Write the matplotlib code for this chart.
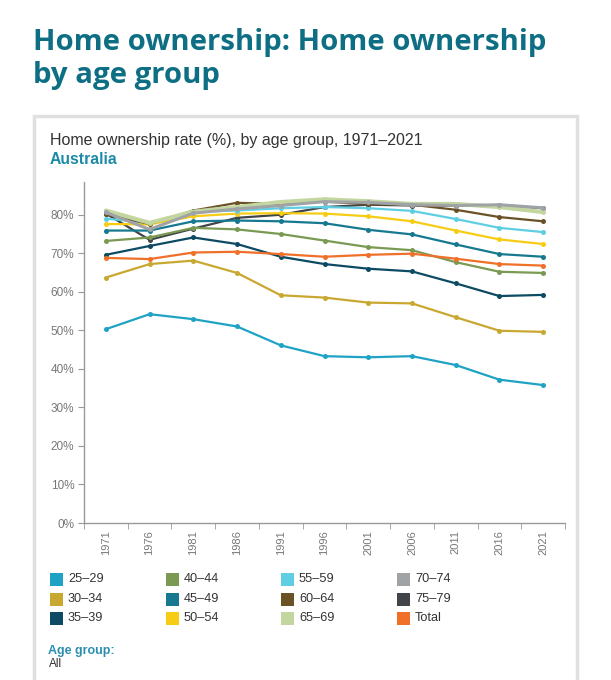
import numpy as np
import matplotlib
matplotlib.use("Agg")
import matplotlib.pyplot as plt
from matplotlib.patches import Rectangle

# data
years = ["1971", "1976", "1981", "1986", "1991", "1996", "2001", "2006", "2011", "2016", "2021"]

age_25_29 = [50.3, 54.2, 52.9, 51.0, 46.1, 43.3, 43.0, 43.3, 41.0, 37.2, 35.8]
age_30_34 = [63.7, 67.2, 68.1, 64.9, 59.1, 58.5, 57.2, 57.0, 53.4, 49.9, 49.6]
age_35_39 = [69.6, 71.9, 74.1, 72.4, 69.1, 67.2, 66.0, 65.3, 62.2, 58.9, 59.2]
age_40_44 = [73.2, 74.1, 76.6, 76.2, 75.0, 73.3, 71.6, 70.8, 67.7, 65.2, 64.9]
age_45_49 = [75.9, 75.9, 78.3, 78.5, 78.3, 77.8, 76.1, 74.9, 72.3, 69.8, 69.1]
age_50_54 = [77.6, 77.5, 79.6, 80.3, 80.4, 80.3, 79.6, 78.3, 75.9, 73.6, 72.4]
age_55_59 = [79.0, 77.9, 80.7, 81.1, 81.7, 82.0, 81.7, 81.0, 78.9, 76.6, 75.5]
age_60_64 = [80.1, 77.6, 81.1, 83.1, 82.8, 83.4, 82.8, 82.6, 81.3, 79.4, 78.3]
age_65_69 = [81.1, 77.9, 80.8, 82.0, 83.3, 84.0, 83.5, 82.8, 82.8, 82.0, 80.7]
age_70_74 = [80.6, 76.2, 80.4, 81.5, 82.4, 83.4, 83.2, 82.6, 82.4, 82.6, 81.8]
age_75_79 = [80.3, 73.5, 76.4, 79.2, 80.0, 82.0, 82.6, 82.4, 82.3, 82.5, 81.7]
total     = [68.8, 68.5, 70.2, 70.4, 69.8, 69.1, 69.6, 69.9, 68.6, 67.2, 66.8]

labels = ["25–29", "30–34", "35–39", "40–44", "45–49", "50–54",
          "55–59", "60–64", "65–69", "70–74", "75–79", "Total"]
series = [age_25_29, age_30_34, age_35_39, age_40_44, age_45_49, age_50_54,
          age_55_59, age_60_64, age_65_69, age_70_74, age_75_79, total]
colors = ["#1fa3c4", "#c9a832", "#0d4a63", "#7a9a53", "#16798f", "#f7cc14",
          "#5ecfe2", "#6a5126", "#c3d6a0", "#a0a3a6", "#414449", "#f0702a"]
widths = [1.6] * 12
widths[8] = 3.0   # 65-69 looks thicker
widths[9] = 2.2
zorders = [3] * 12
zorders[10] = 2   # 75-79 sits under the grey line

W, H = 611, 680
fig = plt.figure(figsize=(W / 100, H / 100), dpi=100)
fig.patch.set_facecolor("white")

def fx(px):
    return px / W

def fy(py):
    return 1 - py / H

# page title
fig.text(fx(33), fy(50), "Home ownership: Home ownership", family="Open Sans",
         weight="bold", fontsize=21.2, color="#0e6f84", va="baseline", ha="left")
fig.text(fx(33), fy(83), "by age group", family="Open Sans",
         weight="bold", fontsize=21.2, color="#0e6f84", va="baseline", ha="left")

# card
card = Rectangle((fx(34), fy(690)), fx(543), fy(116) - fy(690), transform=fig.transFigure,
                 facecolor="white", edgecolor="#e0e0e0", linewidth=2.5, zorder=0)
fig.add_artist(card)

fig.text(fx(50), fy(141), "Home ownership rate (%), by age group, 1971–2021",
         family="Liberation Sans", fontsize=11.5, color="#333333", va="center")
fig.text(fx(50), fy(159), "Australia", family="Liberation Sans", weight="bold",
         fontsize=11.3, color="#1a8aa6", va="center")

# axes
ax = fig.add_axes([fx(84), fy(523), fx(565) - fx(84), fy(182) - fy(523)])
x = np.arange(len(years))
for vals, c, lw, z in zip(series, colors, widths, zorders):
    ax.plot(x, vals, color=c, lw=lw, marker="o", markersize=3.6,
            markeredgewidth=0, solid_capstyle="round", zorder=z)

ax.set_xlim(-0.5, len(years) - 0.5)
ax.set_ylim(0, 88.5)
ax.set_yticks(np.arange(0, 90, 10))
ax.set_yticklabels([f"{v}%" for v in range(0, 90, 10)])
ax.set_xticks(x)
ax.set_xticklabels(years, rotation=90)
ax.set_xticks(np.arange(-0.5, len(years), 1), minor=True)
ax.tick_params(axis="x", which="major", length=0, pad=5, labelsize=8, labelcolor="#777777")
ax.tick_params(axis="x", which="minor", length=4, color="#999999")
ax.tick_params(axis="y", length=4, color="#999999", labelsize=8.5, labelcolor="#777777", pad=3)
for lab in ax.get_xticklabels() + ax.get_yticklabels():
    lab.set_family("Liberation Sans")
for s in ["top", "right"]:
    ax.spines[s].set_visible(False)
for s in ["left", "bottom"]:
    ax.spines[s].set_color("#999999")
    ax.spines[s].set_linewidth(1.0)

# legend, column-major
col_x = [50, 166, 281, 397]
row_y = [579, 599, 618]
for i, (lab, c) in enumerate(zip(labels, colors)):
    cx = col_x[i // 3]
    cy = row_y[i % 3]
    fig.add_artist(Rectangle((fx(cx), fy(cy + 7)), fx(13), fy(cy - 6) - fy(cy + 7),
                             transform=fig.transFigure, facecolor=c, edgecolor="none"))
    fig.text(fx(cx + 18), fy(cy), lab, family="Liberation Sans", fontsize=9.2,
             color="#333333", va="center")

fig.text(fx(48), fy(651), "Age group:", family="Liberation Sans", weight="bold",
         fontsize=9, color="#2a8fae", va="center")
fig.text(fx(49), fy(664), "All", family="Liberation Sans", fontsize=8.5,
         color="#333333", va="center")

fig.savefig("out.png", dpi=100)
